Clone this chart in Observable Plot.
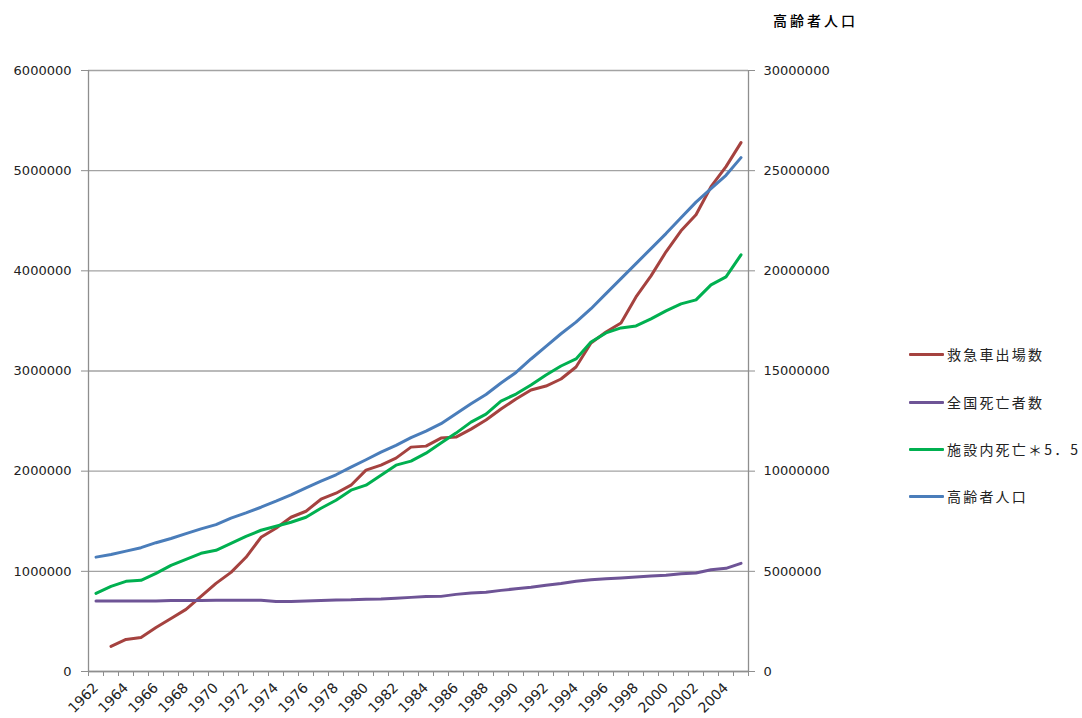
<!DOCTYPE html>
<html>
<head>
<meta charset="utf-8">
<script src="https://cdn.jsdelivr.net/npm/d3@7"></script>
<script src="https://cdn.jsdelivr.net/npm/@observablehq/plot@0.6"></script>
<style>
  body { margin: 0; background: #fff; overflow: hidden; }
  #chart { position: relative; width: 1082px; height: 718px; font-family: "DejaVu Sans", sans-serif; }
  #chart svg { position: absolute; left: 0; top: 0; overflow: visible; }
  .axis-title { position: absolute; left: 773px; top: 10px; font-family: "Noto Sans CJK JP", sans-serif;
    font-size: 14px; font-weight: 500; letter-spacing: 3px; color: #000; white-space: nowrap; }
  .legend-item { position: absolute; left: 909px; height: 20px; display: flex; align-items: center; white-space: nowrap; }
  .legend-item .swatch { width: 35px; height: 3px; margin-right: 3px; border-radius: 1px; }
  .legend-item span { font-family: "Noto Sans CJK JP", sans-serif; font-size: 14px; letter-spacing: 2.2px; color: #222; }
</style>
</head>
<body>
<div id="chart"></div>
<script>
// Years on the category axis
const years = d3.range(1962, 2006);

// 救急車出場数 (left axis) — no figure for 1962
const ambulance = [
  null, 250000, 320000, 340000, 440000, 530000, 620000, 750000, 880000, 990000,
  1140000, 1340000, 1430000, 1540000, 1600000, 1720000, 1780000, 1860000, 2010000, 2060000,
  2130000, 2240000, 2250000, 2330000, 2340000, 2420000, 2510000, 2620000, 2720000, 2810000,
  2850000, 2920000, 3040000, 3280000, 3390000, 3480000, 3740000, 3950000, 4190000, 4400000,
  4560000, 4840000, 5040000, 5280000
];

// 全国死亡者数 (left axis)
const deaths = [
  705000, 705000, 705000, 705000, 705000, 708000, 710000, 710000, 712000, 712000,
  712000, 712000, 700000, 700000, 705000, 708000, 714000, 716000, 722000, 724000,
  732000, 740000, 748000, 750000, 770000, 784000, 792000, 810000, 826000, 842000,
  862000, 878000, 900000, 916000, 926000, 934000, 944000, 954000, 962000, 976000,
  984000, 1016000, 1030000, 1080000
];

// 施設内死亡 × 5.5 (left axis)
const facility = [
  780000, 850000, 900000, 910000, 980000, 1060000, 1120000, 1180000, 1210000, 1280000,
  1350000, 1410000, 1450000, 1490000, 1540000, 1630000, 1710000, 1810000, 1860000, 1960000,
  2060000, 2100000, 2180000, 2280000, 2380000, 2490000, 2570000, 2700000, 2770000, 2860000,
  2960000, 3050000, 3120000, 3290000, 3380000, 3430000, 3450000, 3520000, 3600000, 3670000,
  3710000, 3860000, 3940000, 4160000
];

// 高齢者人口 (right axis)
const elderly = [
  5710000, 5840000, 6010000, 6180000, 6430000, 6640000, 6880000, 7120000, 7330000, 7660000,
  7920000, 8200000, 8500000, 8820000, 9170000, 9500000, 9820000, 10200000, 10570000, 10950000,
  11290000, 11670000, 12000000, 12370000, 12870000, 13370000, 13830000, 14400000, 14930000, 15600000,
  16230000, 16860000, 17440000, 18110000, 18860000, 19610000, 20360000, 21110000, 21860000, 22650000,
  23430000, 24100000, 24770000, 25650000
];

// Axis ticks and labels
const leftTicks = [0, 1000000, 2000000, 3000000, 4000000, 5000000, 6000000];
const yearLabels = d3.range(1962, 2005, 2);
const seriesNames = ["救急車出場数", "全国死亡者数", "施設内死亡＊5．5", "高齢者人口"];
const rightAxisTitle = "高齢者人口";

// The right axis (0–30,000,000) is five times the left one
const RIGHT_RATIO = 5;

const colors = ["#A5423F", "#6E5496", "#00B050", "#4A7DBA"];
const gridColor = "#a3a3a3";
const axisColor = "#8e8e8e";

const rows = years.map((year, i) => ({
  year,
  ambulance: ambulance[i],
  deaths: deaths[i],
  facility: facility[i],
  elderly: elderly[i]
}));

const fmt = d3.format("d");
const lineStyle = {strokeWidth: 3, strokeLinejoin: "round", strokeLinecap: "round"};
const bandEdges = d3.range(years[0] - 0.5, years[years.length - 1] + 1, 1);

const chart = Plot.plot({
  width: 1082,
  height: 718,
  marginLeft: 88,
  marginRight: 334,
  marginTop: 70,
  marginBottom: 47,
  x: {type: "linear", domain: [years[0] - 0.5, years[years.length - 1] + 0.5]},
  y: {domain: [0, 6000000]},
  style: {fontFamily: "DejaVu Sans, sans-serif", fontSize: "13px", color: "#222", background: "transparent"},
  marks: [
    Plot.gridY(leftTicks, {stroke: gridColor, strokeOpacity: 1, strokeWidth: 1.3}),
    Plot.ruleX([bandEdges[0], bandEdges[bandEdges.length - 1]], {stroke: axisColor, strokeWidth: 1.3}),
    Plot.ruleY([0], {stroke: axisColor, strokeWidth: 1.3}),
    Plot.axisY({ticks: leftTicks, tickSize: 7, tickPadding: 10, tickFormat: fmt, label: null,
      stroke: axisColor, fontSize: 13}),
    Plot.axisY({anchor: "right", ticks: leftTicks, tickSize: 6, tickPadding: 9,
      tickFormat: d => fmt(d * RIGHT_RATIO), label: null, stroke: axisColor, fontSize: 13}),
    Plot.axisX({ticks: bandEdges, tickSize: 5, tickFormat: () => "", label: null, stroke: axisColor}),
    Plot.axisX({ticks: yearLabels, tickSize: 0, tickPadding: 14, tickRotate: -45,
      tickFormat: d => String(d), label: null, fontSize: 14}),
    Plot.line(rows, {x: "year", y: "ambulance", stroke: colors[0], ...lineStyle}),
    Plot.line(rows, {x: "year", y: "deaths", stroke: colors[1], ...lineStyle}),
    Plot.line(rows, {x: "year", y: "facility", stroke: colors[2], ...lineStyle}),
    Plot.line(rows, {x: "year", y: d => d.elderly / RIGHT_RATIO, stroke: colors[3], ...lineStyle})
  ]
});

const root = document.getElementById("chart");
root.appendChild(chart);

// Right-axis title
const title = document.createElement("div");
title.className = "axis-title";
title.textContent = rightAxisTitle;
root.appendChild(title);

// Legend
const legendTops = [344, 392, 439, 486];
seriesNames.forEach((name, i) => {
  const item = document.createElement("div");
  item.className = "legend-item";
  item.style.top = legendTops[i] + "px";
  const sw = document.createElement("div");
  sw.className = "swatch";
  sw.style.background = colors[i];
  const label = document.createElement("span");
  label.textContent = name;
  item.appendChild(sw);
  item.appendChild(label);
  root.appendChild(item);
});
</script>
</body>
</html>
